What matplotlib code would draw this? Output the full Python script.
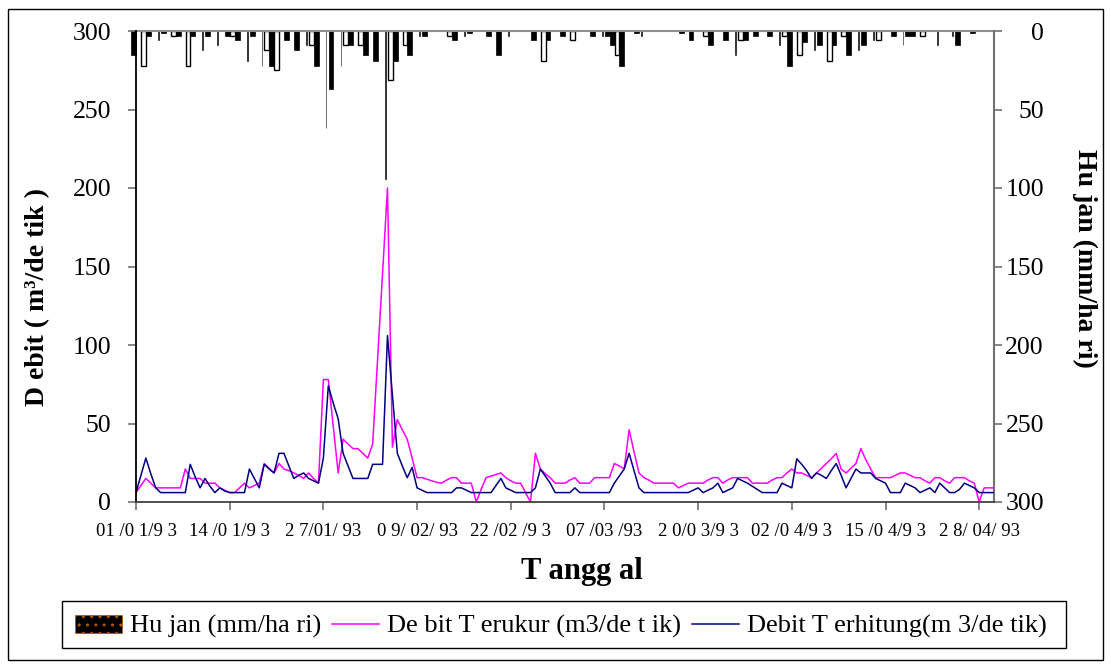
import numpy as np
import matplotlib.pyplot as plt
from matplotlib.patches import Rectangle, Patch
from matplotlib.lines import Line2D

plt.rcParams['font.family'] = ['Liberation Serif', 'DejaVu Serif']

# ==============================
# Data
# ==============================
tanggal_label = ['01 /0 1/9 3', '14 /0 1/9 3', '2 7/01/ 93', '0 9/ 02/ 93', '22 /02 /9 3',
                 '07 /03 /93', '2 0/0 3/9 3', '02 /0 4/9 3', '15 /0 4/9 3', '2 8/ 04/ 93']

debit_terukur = [
    6, 10.5, 15, 12, 9, 9, 9, 9, 9, 9, 21, 15, 15, 15, 12, 12, 12, 9, 7.5, 6, 6, 9, 12, 9, 10.5,
    12, 24.5, 21.5, 18.5, 24.5, 21, 20, 18.5, 17, 15, 18.5, 15, 12, 78, 78, 48, 18.5, 40, 37, 34, 34, 31, 28, 37, 91,
    146, 200, 35, 52.5, 46, 40, 28, 15.5, 15.5, 14.5, 13.5, 12.5, 12, 14, 15.5, 15.5, 12, 12, 12, 0, 8, 15.5, 16.5, 17.5, 18.5,
    15.5, 13.5, 12, 12, 6, 0, 31, 21, 18, 15.5, 12, 12, 12, 14, 15.5, 12, 12, 12, 15.5, 15.5, 15.5, 15.5, 24.5, 23, 21,
    46, 32, 18.5, 15.5, 14, 12, 12, 12, 12, 12, 9, 10.5, 12, 12, 12, 12, 14, 15.5, 15.5, 12, 14, 15.5, 15.5, 15.5, 15.5,
    12, 12, 12, 12, 14, 15.5, 15.5, 18.5, 21, 18.5, 18.5, 17, 15.5, 18.5, 21.5, 24.5, 27.5, 31, 21, 18.5, 21.5, 24.5, 34, 27, 21,
    15.5, 15.5, 15.5, 15.5, 17, 18.5, 18.5, 17, 15.5, 15.5, 13.5, 12, 15.5, 15.5, 13.5, 12, 15.5, 15.5, 15.5, 13.5, 12, 0, 9, 9, 9,
]

debit_terhitung = [
    6, 17, 28, 18, 9, 6, 6, 6, 6, 6, 6, 24, 16, 9, 15, 10, 6, 9, 7, 6, 6, 6, 6, 21, 15,
    9, 24, 21, 18.5, 31, 31, 23, 15, 17, 18.5, 15, 13.5, 12, 28, 74, 63, 53, 31, 23, 15, 15, 15, 15, 24, 24,
    24, 106, 68, 31, 23, 15.5, 22, 9, 7.5, 6, 6, 6, 6, 6, 6, 9, 9, 7.5, 6, 6, 6, 6, 6, 10.5, 15,
    9, 7.5, 6, 6, 6, 6, 9, 21, 16.5, 12, 6, 6, 6, 6, 9, 6, 6, 6, 6, 6, 6, 6, 12, 16.5, 21,
    31, 20, 9, 6, 6, 6, 6, 6, 6, 6, 6, 6, 6, 7.5, 9, 6, 7.5, 9, 12, 6, 7.5, 9, 15, 13.5, 12,
    10, 8, 6, 6, 6, 6, 12, 10.5, 9, 27.5, 24, 20, 15, 18.5, 17, 15, 20, 24.5, 17, 9, 15, 21, 18.5, 18.5, 18.5,
    15, 13.5, 12, 6, 6, 6, 12, 10.5, 9, 6, 7.5, 9, 6, 12, 9, 6, 6, 8, 12, 10.5, 9, 6, 6, 6, 6,
]

hujan = [
    15, 0, 22, 3, 0, 6, 1, 0, 3, 3, 0, 22, 3, 0, 12, 3, 0, 9, 0, 3, 3, 6, 0, 19, 3,
    0, 22, 12, 22, 25, 0, 6, 0, 12, 0, 9, 9, 22, 0, 62, 37, 0, 22, 9, 9, 0, 9, 15, 0, 19,
    0, 94, 31, 19, 0, 9, 15, 0, 3, 3, 0, 0, 0, 0, 3, 6, 0, 3, 1, 0, 0, 0, 3, 0, 15,
    0, 3, 0, 0, 0, 0, 6, 0, 19, 6, 0, 0, 3, 0, 6, 0, 0, 0, 3, 0, 3, 3, 9, 15, 22,
    0, 0, 1, 3, 0, 0, 0, 0, 0, 0, 0, 1, 0, 6, 0, 0, 3, 9, 0, 0, 6, 0, 15, 6, 6,
    0, 3, 0, 0, 3, 0, 9, 3, 22, 0, 15, 7, 0, 12, 9, 0, 19, 9, 0, 3, 15, 0, 12, 9, 0,
    6, 6, 0, 0, 3, 0, 9, 3, 3, 0, 3, 0, 0, 9, 0, 0, 3, 9, 0, 0, 1, 0, 0, 0, 0,
]

# tampilan batang hujan seperti pada gambar asli: b = hitam, w = putih, l = garis tipis
pola_hujan = ("b.wb.lb.wb.wb.lb.l.bwb.lb"
              ".lwbw.b.b.lwb.lb.lwb.wb.b"
              ".lwb.wb.lb....wb.lb...b.b"
              ".l....b.wb..b.w...b.lbbwb"
              "..bl.......b.b..wb..b.lwb"
              ".b..b.lwb.wb.lb.wb.wb.lb."
              "lw..b.lbb.w..l..lb..b....")

x = np.arange(len(debit_terukur))
hujan = np.array(hujan, dtype=float)
pola = np.array(list(pola_hujan))

# ==============================
# Figure
# ==============================
W, H = 1111, 664
fig = plt.figure(figsize=(W / 100, H / 100), dpi=100)
ax = fig.add_axes([136 / W, 1 - 502 / H, (994 - 136) / W, (502 - 31) / H])
ax2 = ax.twinx()

# Hujan (sumbu kanan, terbalik)
for kode, fc, ec, lebar, lw in [('w', 'white', 'black', 1.0, 1.0),
                                 ('b', 'black', 'black', 1.0, 0.5),
                                 ('l', 'black', 'black', 0.15, 0.4)]:
    m = pola == kode
    ax2.bar(x[m] - 0.45, hujan[m], width=lebar, facecolor=fc, edgecolor=ec,
            linewidth=lw, clip_on=False)
ax2.set_ylim(300, 0)
ax2.set_yticks(np.arange(0, 301, 50))

# Debit (sumbu kiri)
ax.plot(x, debit_terukur, color='#FF00FF', lw=1.1)
ax.plot(x, debit_terhitung, color='#000080', lw=1.1)
ax.set_ylim(0, 300)
ax.set_xlim(0, len(x) - 1)
ax.set_yticks(np.arange(0, 301, 50))
ax.set_xticks(np.arange(0, len(x), 19))
ax.set_xticklabels(tanggal_label)
ax.set_zorder(ax2.get_zorder() + 1)
ax.patch.set_visible(False)

# Gaya sumbu
for a in (ax, ax2):
    a.spines['top'].set_visible(False)
ax.spines['right'].set_visible(False)
ax2.spines['left'].set_visible(False)
ax2.spines['bottom'].set_visible(False)
ax.spines['left'].set_color('black')
ax.spines['left'].set_linewidth(1.3)
ax.spines['bottom'].set_color('#404040')
ax.spines['bottom'].set_linewidth(1.3)
ax2.spines['right'].set_color('#707070')
ax2.spines['right'].set_linewidth(1.5)
ax2.axhline(0, color='#909090', lw=1.5, clip_on=False)

ax.tick_params(axis='y', direction='out', length=6, width=1.2, color='#707070',
               labelsize=18.5, pad=12)
ax.tick_params(axis='x', direction='out', length=6, width=1.2, color='#707070',
               labelsize=13.5, pad=9)
ax2.tick_params(axis='y', direction='out', length=6, width=1.2, color='#707070',
                labelsize=18.5, pad=30)
for t in ax2.get_yticklabels():
    t.set_horizontalalignment('right')

# Label sumbu
fig.text(38 / W, 1 - 297 / H, 'D ebit ( m³/de tik )', rotation=90, ha='center',
         va='center', fontsize=20, fontweight='bold')
fig.text(582 / W, 1 - 571 / H, 'T angg al', ha='center', va='center',
         fontsize=22, fontweight='bold')
fig.text(1085 / W, 1 - 258 / H, 'Hu jan (mm/ha ri)', rotation=270, ha='center',
         va='center', fontsize=20, fontweight='bold')

# Legenda
handles = [Patch(facecolor='black', edgecolor='#b35a00', hatch='..', lw=0.5),
           Line2D([], [], color='#FF00FF', lw=1.1),
           Line2D([], [], color='#000080', lw=1.1)]
labels = ['Hu jan (mm/ha ri)', 'De bit T erukur (m3/de t ik)', 'Debit T erhitung(m 3/de tik)']
fig.legend(handles, labels, ncol=3, loc='upper left',
           bbox_to_anchor=(64 / W, 1 - 604 / H), frameon=False, fontsize=19,
           handlelength=1.8, handletextpad=0.3, columnspacing=0.4, borderaxespad=0)
fig.patches.append(Rectangle((62 / W, 1 - 648 / H), (1066 - 62) / W, 47 / H,
                             transform=fig.transFigure, fill=False, ec='black', lw=1))
fig.patches.append(Rectangle((8 / W, 1 - 660 / H), (1103 - 8) / W, 651 / H,
                             transform=fig.transFigure, fill=False, ec='black', lw=1))

plt.savefig('out.png', dpi=100)
